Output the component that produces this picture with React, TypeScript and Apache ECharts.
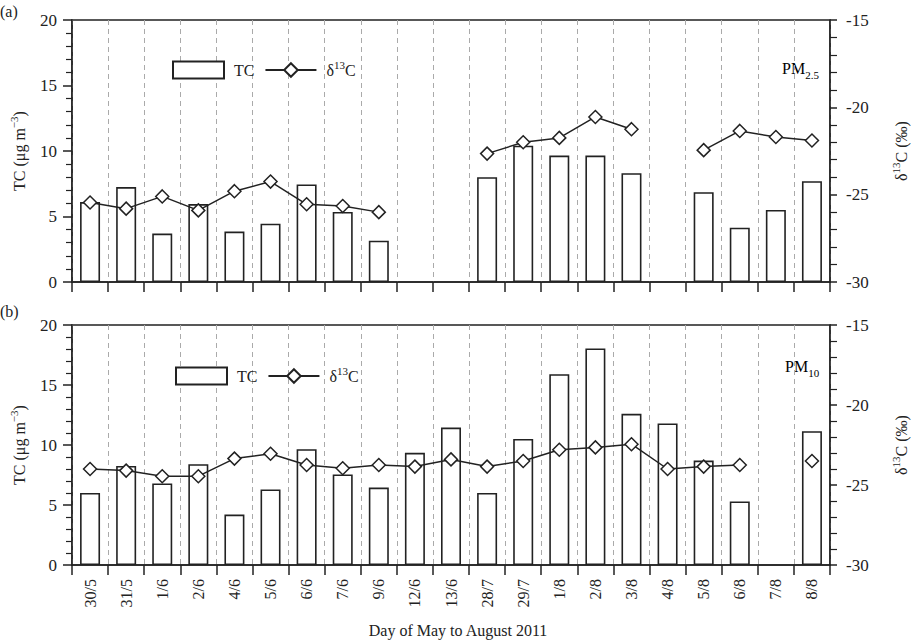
import React, { useEffect, useRef } from 'react';
import * as echarts from 'echarts';

// ---- data ----
const categories = ['30/5', '31/5', '1/6', '2/6', '4/6', '5/6', '6/6', '7/6', '9/6', '12/6', '13/6', '28/7', '29/7', '1/8', '2/8', '3/8', '4/8', '5/8', '6/8', '7/8', '8/8'];

const tcPM25 = [6.1, 7.25, 3.7, 5.95, 3.85, 4.45, 7.45, 5.35, 3.15, null, null, 8.0, 10.4, 9.65, 9.65, 8.3, null, 6.85, 4.15, 5.5, 7.7];
const d13cPM25 = [-25.45, -25.8, -25.1, -25.9, -24.8, -24.25, -25.55, -25.65, -26.0, null, null, -22.65, -22.0, -21.75, -20.55, -21.25, null, -22.45, -21.35, -21.7, -21.9];

const tcPM10 = [6.0, 8.25, 6.8, 8.4, 4.2, 6.3, 9.65, 7.55, 6.45, 9.35, 11.45, 6.0, 10.5, 15.9, 18.05, 12.6, 11.8, 8.7, 5.3, null, 11.15];
const d13cPM10 = [-24.0, -24.1, -24.45, -24.45, -23.35, -23.05, -23.75, -23.95, -23.75, -23.85, -23.4, -23.85, -23.5, -22.8, -22.65, -22.45, -24.0, -23.85, -23.75, null, -23.5];

const tcTicks = [0, 5, 10, 15, 20];
const d13cTicks = [-30, -25, -20, -15];

const FONT = "'Liberation Serif', 'Times New Roman', serif";
const INK = '#222';

const richText = {
  t: { fontSize: 16, fontFamily: FONT, color: INK, lineHeight: 22 },
  s: { fontSize: 11, fontFamily: FONT, color: INK, verticalAlign: 'top', lineHeight: 22 },
  b: { fontSize: 11, fontFamily: FONT, color: INK, verticalAlign: 'bottom', lineHeight: 24 },
};

function buildOption() {
  const grids = [
    { left: 68, top: 20, width: 774, height: 262 },
    { left: 66, top: 325, width: 778, height: 240 },
  ];
  const lineStyle = { color: INK, width: 1.5 };

  const xAxis = grids.map((_, i) => ({
    type: 'category',
    gridIndex: i,
    data: categories,
    boundaryGap: true,
    axisLine: { show: true, lineStyle },
    axisTick: { show: true, length: 10, interval: 0, alignWithLabel: false, lineStyle },
    axisLabel: {
      show: i === 1,
      interval: 0,
      rotate: 90,
      margin: 14,
      fontSize: 16,
      fontFamily: FONT,
      color: INK,
    },
    splitLine: { show: true, interval: 0, lineStyle: { type: [5, 4], color: '#aaa', width: 1 } },
  }));

  const yAxis: any[] = [];
  grids.forEach((_, i) => {
    yAxis.push({
      type: 'value',
      gridIndex: i,
      position: 'left',
      min: tcTicks[0],
      max: tcTicks[tcTicks.length - 1],
      interval: tcTicks[1] - tcTicks[0],
      axisLine: { show: true, lineStyle },
      axisTick: { show: true, length: 9, lineStyle },
      minorTick: { show: true, splitNumber: 5, length: 6, lineStyle: { color: INK, width: 1.2 } },
      axisLabel: { margin: 15, fontSize: 17, fontFamily: FONT, color: INK },
      splitLine: { show: false },
      name: '{t|TC (μg m}{s|−3}{t|)}',
      nameLocation: 'middle',
      nameRotate: 90,
      nameGap: 42,
      nameTextStyle: { rich: richText },
    });
    yAxis.push({
      type: 'value',
      gridIndex: i,
      position: 'right',
      min: d13cTicks[0],
      max: d13cTicks[d13cTicks.length - 1],
      interval: d13cTicks[1] - d13cTicks[0],
      axisLine: { show: true, lineStyle },
      axisTick: { show: true, length: 7, lineStyle },
      minorTick: { show: true, splitNumber: 5, length: 7, lineStyle: { color: INK, width: 1.2 } },
      axisLabel: { margin: 16, fontSize: 17, fontFamily: FONT, color: INK },
      splitLine: { show: false },
      name: '{t|δ}{s|13}{t|C (‰)}',
      nameLocation: 'middle',
      nameRotate: 90,
      nameGap: 60,
      nameTextStyle: { rich: richText },
    });
  });

  const panels = [
    { tc: tcPM25, d: d13cPM25 },
    { tc: tcPM10, d: d13cPM10 },
  ];
  const series: any[] = [];
  panels.forEach((p, i) => {
    series.push({
      name: 'TC',
      type: 'bar',
      xAxisIndex: i,
      yAxisIndex: i * 2,
      data: p.tc,
      barWidth: 20,
      itemStyle: { color: '#fff', borderColor: INK, borderWidth: 1.6 },
      emphasis: { disabled: true },
    });
    series.push({
      name: 'δ13C',
      type: 'line',
      xAxisIndex: i,
      yAxisIndex: i * 2 + 1,
      data: p.d,
      symbol: 'diamond',
      symbolSize: 13,
      showSymbol: true,
      showAllSymbol: true,
      connectNulls: false,
      lineStyle: { color: INK, width: 1.5 },
      itemStyle: { color: '#fff', borderColor: INK, borderWidth: 1.5 },
      emphasis: { disabled: true },
      z: 5,
    });
  });

  const legendCommon = {
    orient: 'horizontal',
    itemWidth: 51,
    itemHeight: 17,
    itemGap: 10,
    selectedMode: false,
    data: [{ name: 'TC', icon: 'rect' }, { name: 'δ13C' }],
    formatter: (n: string) => (n === 'TC' ? '{t|TC}' : '{t|δ}{s|13}{t|C}'),
    textStyle: { padding: [0, 0, 0, 5], rich: richText },
  };

  return {
    animation: false,
    grid: grids.map((g) => ({ ...g, show: true, borderColor: INK, borderWidth: 1.5, backgroundColor: 'transparent' })),
    xAxis,
    yAxis,
    series,
    legend: [
      { ...legendCommon, left: 167, top: 54 },
      { ...legendCommon, left: 170, top: 360 },
    ],
    graphic: [
      { type: 'text', left: 0, top: 3, style: { text: '(a)', font: `16px ${FONT}`, fill: INK } },
      { type: 'text', left: 0, top: 303, style: { text: '(b)', font: `16px ${FONT}`, fill: INK } },
      { type: 'text', left: 782, top: 60, style: { text: '{t|PM}{b|2.5}', rich: richText } },
      { type: 'text', left: 785, top: 358, style: { text: '{t|PM}{b|10}', rich: richText } },
      {
        type: 'text',
        left: 'center',
        top: 622,
        style: { text: 'Day of May to August 2011', font: `16px ${FONT}`, fill: INK },
      },
    ],
  };
}

export default function App() {
  const ref = useRef<HTMLDivElement>(null);
  useEffect(() => {
    if (!ref.current) return;
    const chart = echarts.init(ref.current, undefined, { renderer: 'svg' });
    chart.setOption(buildOption() as any);
    return () => chart.dispose();
  }, []);
  return (
    <div
      ref={ref}
      style={{ position: 'fixed', left: 0, top: 0, width: 917, height: 641, background: '#fff' }}
    />
  );
}
